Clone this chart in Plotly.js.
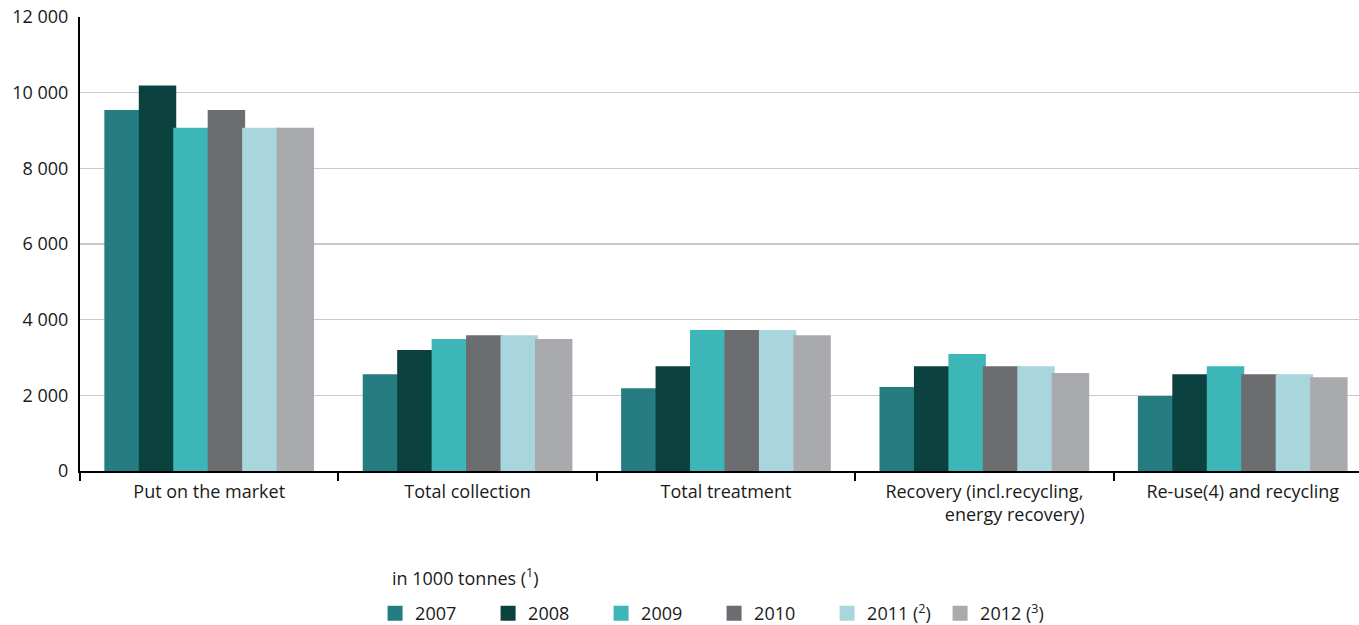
<!DOCTYPE html>
<html>
<head>
<meta charset="utf-8">
<script src="https://cdn.plot.ly/plotly-3.0.1.min.js"></script>
<style>html,body{margin:0;padding:0;background:#fff;}#chart{width:1359px;height:625px;}</style>
</head>
<body>
<div id="chart"></div>
<script>
const categories = ["Put on the market", "Total collection", "Total treatment", "Recovery (incl.recycling,<br>\u00a0\u00a0\u00a0\u00a0\u00a0\u00a0\u00a0\u00a0\u00a0\u00a0\u00a0\u00a0\u00a0energy recovery)", "Re-use(4) and recycling"];
const seriesNames = ["2007", "2008", "2009", "2010", "2011 (<sup>2</sup>)", "2012 (<sup>3</sup>)"];
const v2007 = [9500, 2520, 2150, 2180, 1940];
const v2008 = [10150, 3160, 2730, 2730, 2520];
const v2009 = [9030, 3450, 3690, 3050, 2730];
const v2010 = [9500, 3550, 3690, 2730, 2520];
const v2011 = [9030, 3550, 3690, 2730, 2520];
const v2012 = [9030, 3450, 3550, 2550, 2440];
const colors = ["#257d82", "#0b4240", "#3db6b8", "#6c6d71", "#a8d6dc", "#a9aaae"];
const legendTitle = "in 1000 tonnes (<sup>1</sup>)";
const yTicks = [0, 2000, 4000, 6000, 8000, 10000, 12000];

const allValues = [v2007, v2008, v2009, v2010, v2011, v2012];
const traces = allValues.map((vals, i) => ({
  type: "bar",
  name: seriesNames[i],
  x: categories,
  y: vals,
  marker: {color: colors[i], line: {color: colors[i], width: 3}},
  hoverinfo: "y+name"
}));

const layout = {
  width: 1359,
  height: 625,
  margin: {l: 80, r: 0, t: 17, b: 154},
  paper_bgcolor: "#fff",
  plot_bgcolor: "#fff",
  font: {family: "Open Sans, sans-serif", size: 18, color: "#1a1a1a"},
  separators: ". ",
  barmode: "group",
  bargap: 0.2,
  bargroupgap: 0,
  showlegend: true,
  legend: {
    orientation: "h",
    xref: "container",
    yref: "container",
    x: 0.2760,
    xanchor: "left",
    y: 0.048,
    yanchor: "top",
    font: {size: 18},
    entrywidth: 68,
    traceorder: "normal"
  },
  annotations: [{
    text: legendTitle,
    xref: "paper", yref: "paper",
    x: 0.2424, y: -0.2335,
    xanchor: "left", yanchor: "middle",
    showarrow: false,
    font: {size: 18, color: "#1a1a1a"}
  }],
  xaxis: {
    type: "category",
    range: [-0.5, 4.45],
    showline: true,
    linecolor: "#000",
    linewidth: 2,
    ticks: "outside",
    tickson: "boundaries",
    ticklen: 8,
    tickwidth: 2,
    tickcolor: "#000",
    showgrid: false,
    ticklabelstandoff: 3,
    tickfont: {size: 18},
    automargin: false
  },
  yaxis: {
    range: [0, 12000],
    tickvals: yTicks,
    tickformat: ",d",
    showline: true,
    linecolor: "#000",
    linewidth: 2,
    showgrid: true,
    gridcolor: "#c9c9cd",
    gridwidth: 1.5,
    zeroline: false,
    ticks: "",
    ticklabelstandoff: 6,
    tickfont: {size: 18},
    automargin: false
  }
};

Plotly.newPlot("chart", traces, layout, {displayModeBar: false, staticPlot: true});
</script>
</body>
</html>
